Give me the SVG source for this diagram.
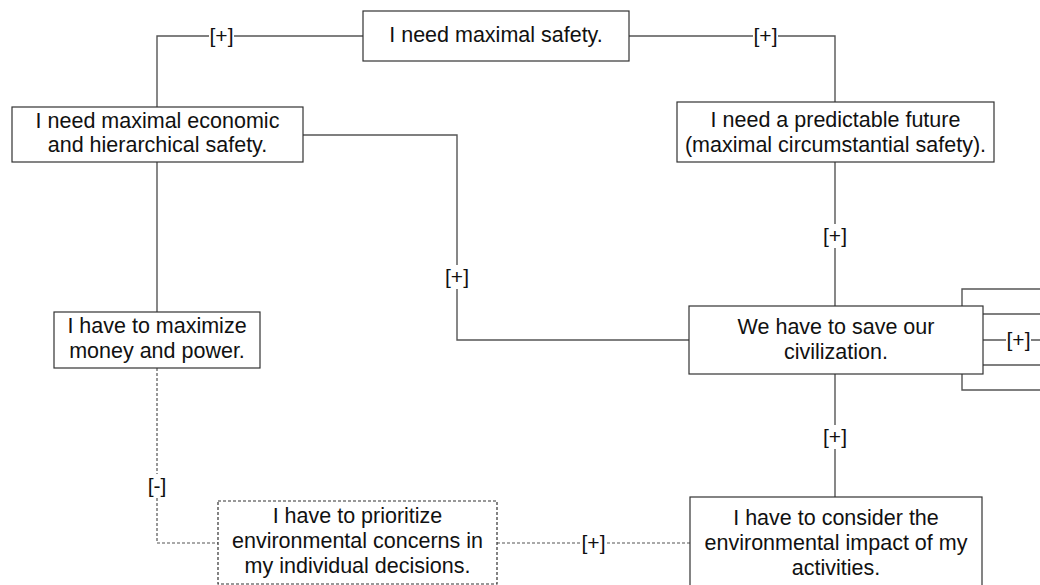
<svg xmlns="http://www.w3.org/2000/svg" width="1040" height="585" viewBox="0 0 1040 585">
<style>
.box{fill:#fff;stroke:#333;stroke-width:1.2}
.dbox{fill:#fff;stroke:#333;stroke-width:1.2;stroke-dasharray:3 2}
.t{font-family:"Liberation Sans",Arial,sans-serif;font-size:21.5px;fill:#111;text-anchor:middle}
.l{font-family:"Liberation Sans",Arial,sans-serif;font-size:21px;fill:#111;text-anchor:middle}
.c{fill:none;stroke:#555;stroke-width:1.4}
.dc{fill:none;stroke:#555;stroke-width:1.2;stroke-dasharray:3 2}
.lb{fill:#fff}
</style>
<rect width="1040" height="585" fill="#fff"/>
<g id="connectors">
<path class="c" d="M363,36 H157 V107"/>
<path class="c" d="M629,36 H835 V102"/>
<path class="c" d="M157,162 V312"/>
<path class="c" d="M303,135 H457 V340 H689"/>
<path class="c" d="M835,162 V306"/>
<path class="c" d="M835,374 V497"/>
<path class="dc" d="M157,368 V543 H218"/>
<path class="dc" d="M497,543 H690"/>
<path class="c" d="M962,306 V289 H1040"/>
<path class="c" d="M983,314 H1040"/>
<path class="c" d="M983,340 H1040"/>
<path class="c" d="M983,365 H1040"/>
<path class="c" d="M962,374 V390 H1040"/>
<g id="labels">
<rect class="lb" x="209" y="25" width="25" height="22"/><text class="l" x="221.5" y="43">[+]</text>
<rect class="lb" x="753" y="25" width="25" height="22"/><text class="l" x="765.5" y="43">[+]</text>
<rect class="lb" x="445" y="265" width="24" height="24"/><text class="l" x="457" y="284">[+]</text>
<rect class="lb" x="823" y="224" width="24" height="24"/><text class="l" x="835" y="243">[+]</text>
<rect class="lb" x="823" y="425" width="24" height="24"/><text class="l" x="835" y="444">[+]</text>
<rect class="lb" x="148" y="474" width="18" height="24"/><text class="l" x="157" y="493">[-]</text>
<rect class="lb" x="581" y="532" width="25" height="22"/><text class="l" x="593.5" y="550">[+]</text>
<rect class="lb" x="1006" y="329" width="25" height="22"/><text class="l" x="1018.5" y="347">[+]</text>
</g>
</g>
<g id="n_safety">
<rect class="box" x="363" y="11" width="266" height="50"/>
<text class="t" x="496" y="42">I need maximal safety.</text>
</g>
<g id="n_econ">
<rect class="box" x="12" y="107" width="291" height="55"/>
<text class="t" x="157.5" y="128">I need maximal economic</text>
<text class="t" x="157.5" y="152">and hierarchical safety.</text>
</g>
<g id="n_future">
<rect class="box" x="677" y="102" width="317" height="60"/>
<text class="t" x="835.5" y="127">I need a predictable future</text>
<text class="t" x="835.5" y="152">(maximal circumstantial safety).</text>
</g>
<g id="n_civ">
<rect class="box" x="689" y="306" width="294" height="68"/>
<text class="t" x="836" y="334">We have to save our</text>
<text class="t" x="836" y="359">civilization.</text>
</g>
<g id="n_money">
<rect class="box" x="54" y="312" width="206" height="56"/>
<text class="t" x="157" y="333">I have to maximize</text>
<text class="t" x="157" y="358">money and power.</text>
</g>
<g id="n_prioritize">
<rect class="dbox" x="218" y="501" width="279" height="83"/>
<text class="t" x="357.5" y="523">I have to prioritize</text>
<text class="t" x="357.5" y="548">environmental concerns in</text>
<text class="t" x="357.5" y="573">my individual decisions.</text>
</g>
<g id="n_consider">
<rect class="box" x="690" y="497" width="292" height="100"/>
<text class="t" x="836" y="525">I have to consider the</text>
<text class="t" x="836" y="550">environmental impact of my</text>
<text class="t" x="836" y="575">activities.</text>
</g>
</svg>
